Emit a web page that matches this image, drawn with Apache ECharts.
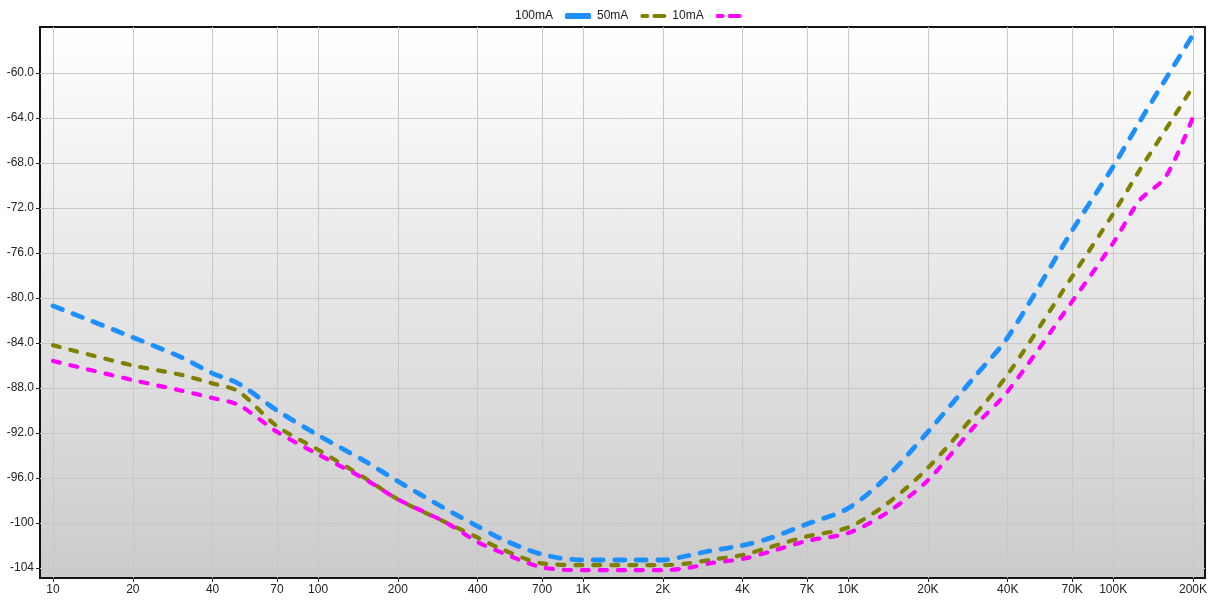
<!DOCTYPE html>
<html>
<head>
<meta charset="utf-8">
<script src="https://cdn.jsdelivr.net/npm/echarts@6/dist/echarts.min.js"></script>
<style>html,body{margin:0;padding:0;background:#fff}#c{width:1211px;height:600px}</style>
</head>
<body>
<div id="c"></div>
<script>
var freqs = [10,20,30,40,50,70,100,150,200,300,400,500,700,1000,1500,2000,2500,3000,4000,5000,7000,10000,14000,20000,30000,40000,70000,100000,126000,158000,200000];
var s100 = [-80.7,-83.5,-85.2,-86.7,-87.6,-90.0,-92.2,-94.5,-96.3,-98.7,-100.3,-101.5,-102.8,-103.3,-103.3,-103.3,-102.9,-102.5,-102.0,-101.4,-100.1,-98.7,-95.9,-91.9,-87.0,-83.5,-74.0,-68.3,-64.3,-60.5,-56.6];
var s50  = [-84.2,-86.0,-86.8,-87.6,-88.3,-91.4,-93.5,-96.0,-97.9,-99.9,-101.3,-102.4,-103.6,-103.75,-103.75,-103.75,-103.6,-103.3,-102.85,-102.2,-101.2,-100.4,-98.3,-95.1,-90.4,-86.8,-78.1,-72.5,-68.6,-65.0,-61.2];
var s10  = [-85.6,-87.3,-88.2,-88.9,-89.5,-91.9,-93.9,-96.1,-97.9,-99.9,-101.7,-102.7,-103.95,-104.2,-104.2,-104.2,-104.0,-103.6,-103.2,-102.6,-101.6,-100.9,-99.1,-96.2,-91.4,-88.3,-80.3,-75.1,-71.3,-69.2,-63.9];
var xTicks = [10,20,40,70,100,200,400,700,1000,2000,4000,7000,10000,20000,40000,70000,100000,200000];
var yTicks = [-104,-100,-96,-92,-88,-84,-80,-76,-72,-68,-64,-60];
var names = ['100mA','50mA','10mA'];
var colors = ['#1e8fff','#808000','#ff00ff'];

function pairs(v){ return freqs.map(function(f,i){ return [f, v[i]]; }); }
function fmtX(v){ v = Math.round(v); return v >= 1000 ? (v/1000) + 'K' : String(v); }
function fmtY(v){ return Math.abs(v) >= 100 ? String(v) : v.toFixed(1); }

var font = 'Liberation Sans, Arial, sans-serif';
var chart = echarts.init(document.getElementById('c'));
var dashes = [[10,11.5],[7,11],[7,11]];
var widths = [4.8,4.2,4.2];
var dashIcon = 'path://M2,0h5a2,2 0 0 1 0,4h-5a2,2 0 0 1 0,-4z M14,0h10a2,2 0 0 1 0,4h-10a2,2 0 0 1 0,-4z';
chart.setOption({
  animation: false,
  backgroundColor: '#ffffff',
  legend: {
    top: 5, left: 510, align: 'right', itemGap: 6, itemWidth: 26, itemHeight: 6,
    textStyle: { fontFamily: font, fontSize: 12, color: '#222', padding: [0, 7, 3, 0] },
    data: [
      { name: names[0], icon: 'roundRect' },
      { name: names[1], icon: dashIcon },
      { name: names[2], icon: dashIcon }
    ]
  },
  grid: {
    left: 40, right: 6, top: 27, bottom: 22, show: true,
    borderColor: '#111', borderWidth: 2,
    backgroundColor: new echarts.graphic.LinearGradient(0,0,0,1,[{offset:0,color:'#ffffff'},{offset:1,color:'#cbcbcb'}])
  },
  xAxis: {
    type: 'log', logBase: 10, min: 8.93, max: 222000,
    axisLine: { show: false },
    axisTick: { show: true, length: 4, lineStyle: { color: '#222' }, customValues: xTicks },
    axisLabel: { customValues: xTicks, formatter: fmtX, fontFamily: font, fontSize: 12, color: '#222', margin: 6 },
    splitLine: { show: true, lineStyle: { color: '#c8c8c8', width: 1 } },
    minorTick: { show: false }
  },
  yAxis: {
    type: 'value', min: -104.9, max: -55.9,
    axisLine: { show: false },
    axisTick: { show: true, length: 4, lineStyle: { color: '#222' }, customValues: yTicks },
    axisLabel: { customValues: yTicks, formatter: fmtY, fontFamily: font, fontSize: 12, color: '#222', margin: 6 },
    splitLine: { show: true, lineStyle: { color: '#c8c8c8', width: 1 } }
  },
  series: [s100, s50, s10].map(function(v,i){
    return {
      name: names[i], type: 'line', data: pairs(v), symbol: 'none', showSymbol: false, smooth: 0.3,
      itemStyle: { color: colors[i] },
      lineStyle: { color: colors[i], width: widths[i], type: dashes[i], cap: 'round' }
    };
  })
});
</script>
</body>
</html>
